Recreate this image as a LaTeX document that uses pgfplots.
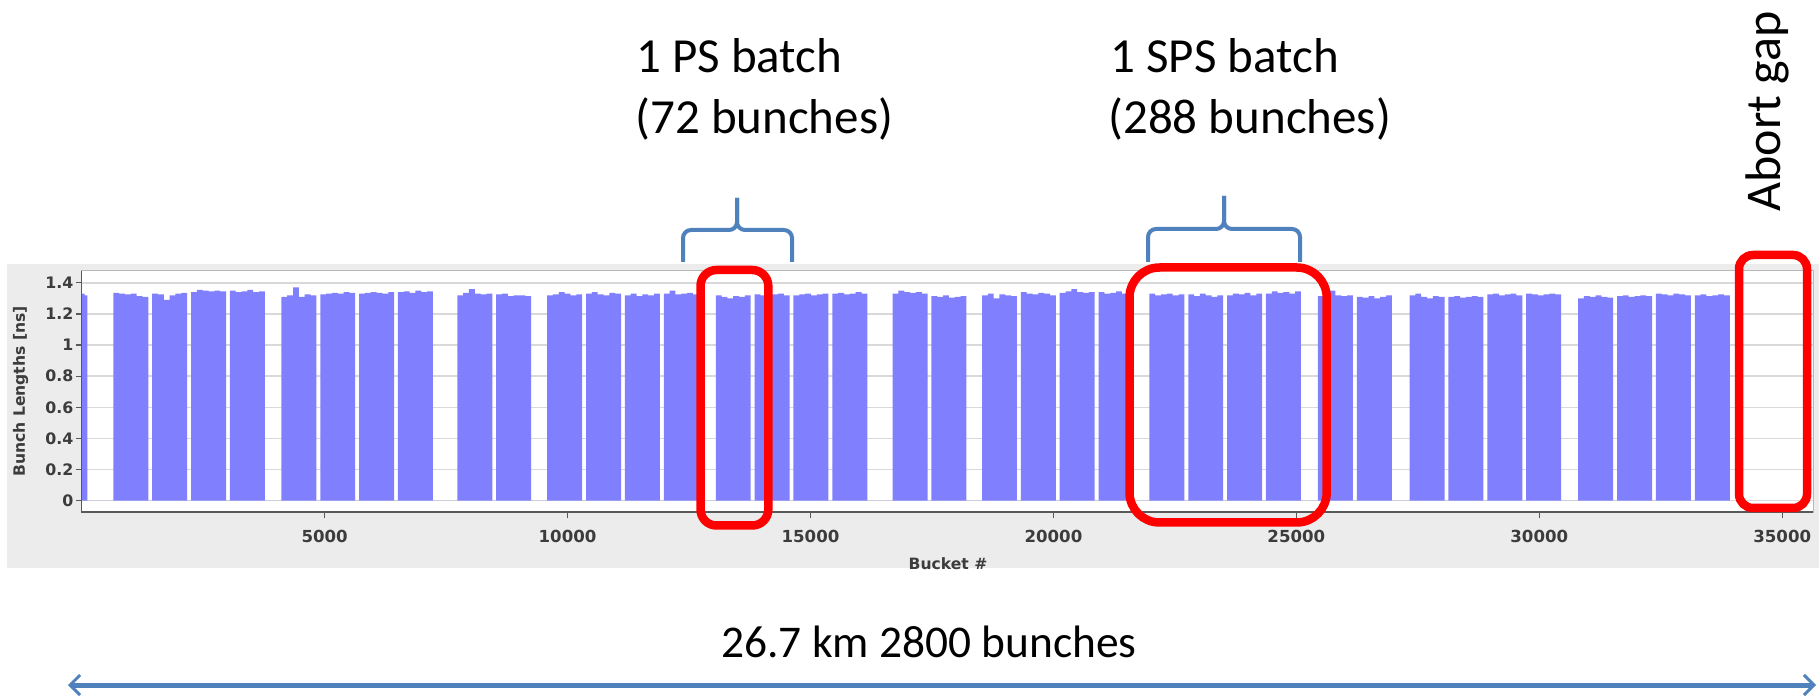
\documentclass[border=0pt]{standalone}
\usepackage{pgfplots}
\pgfplotsset{compat=1.18}
\usepackage{pgfplotstable}
\usetikzlibrary{arrows.meta}
\usepackage{fontspec}
\setmainfont{Carlito}
\newfontfamily\slidefont{Carlito}
\newfontfamily\chartfont{DejaVu Sans}
\definecolor{barblue}{RGB}{128,128,255}
\definecolor{braceblue}{RGB}{79,129,189}
\definecolor{panelgray}{RGB}{236,236,236}
\definecolor{ticktext}{RGB}{60,60,60}

\pgfplotstableread{
x y
0 1.33
60 1.32
115 0
650 1.335
770 1.33
890 1.325
1010 1.33
1130 1.315
1250 1.31
1370 0
1450 1.33
1570 1.325
1690 1.29
1810 1.32
1930 1.33
2050 1.335
2170 0
2250 1.34
2370 1.355
2490 1.35
2610 1.345
2730 1.35
2850 1.345
2970 0
3050 1.35
3170 1.34
3290 1.345
3410 1.355
3530 1.34
3650 1.345
3770 0
4110 1.31
4230 1.32
4350 1.37
4470 1.31
4590 1.325
4710 1.32
4830 0
4910 1.325
5030 1.33
5150 1.335
5270 1.33
5390 1.34
5510 1.335
5630 0
5710 1.33
5830 1.335
5950 1.34
6070 1.335
6190 1.33
6310 1.34
6430 0
6510 1.34
6630 1.345
6750 1.335
6870 1.35
6990 1.34
7110 1.345
7230 0
7730 1.32
7850 1.335
7970 1.36
8090 1.33
8210 1.325
8330 1.33
8450 0
8530 1.325
8650 1.33
8770 1.315
8890 1.32
9010 1.32
9130 1.315
9250 0
9580 1.32
9700 1.325
9820 1.34
9940 1.33
10060 1.32
10180 1.325
10300 0
10380 1.33
10500 1.34
10620 1.325
10740 1.32
10860 1.335
10980 1.33
11100 0
11180 1.32
11300 1.33
11420 1.315
11540 1.325
11660 1.32
11780 1.33
11900 0
11980 1.33
12100 1.35
12220 1.325
12340 1.33
12460 1.335
12580 1.325
12700 0
13050 1.32
13170 1.31
13290 1.30
13410 1.315
13530 1.31
13650 1.32
13770 0
13850 1.325
13970 1.32
14090 1.315
14210 1.325
14330 1.33
14450 1.32
14570 0
14650 1.32
14770 1.325
14890 1.33
15010 1.32
15130 1.325
15250 1.33
15370 0
15450 1.33
15570 1.335
15690 1.325
15810 1.33
15930 1.34
16050 1.33
16170 0
16690 1.33
16810 1.35
16930 1.34
17050 1.335
17170 1.34
17290 1.33
17410 0
17490 1.315
17610 1.31
17730 1.32
17850 1.305
17970 1.31
18090 1.315
18210 0
18530 1.32
18650 1.33
18770 1.30
18890 1.325
19010 1.32
19130 1.315
19250 0
19330 1.34
19450 1.33
19570 1.325
19690 1.335
19810 1.33
19930 1.32
20050 0
20130 1.335
20250 1.345
20370 1.36
20490 1.34
20610 1.335
20730 1.34
20850 0
20930 1.34
21050 1.33
21170 1.335
21290 1.345
21410 1.33
21530 1.335
21650 0
21975 1.33
22095 1.32
22215 1.325
22335 1.33
22455 1.32
22575 1.325
22695 0
22775 1.325
22895 1.315
23015 1.33
23135 1.32
23255 1.31
23375 1.32
23495 0
23575 1.32
23695 1.33
23815 1.325
23935 1.335
24055 1.32
24175 1.33
24295 0
24375 1.33
24495 1.345
24615 1.335
24735 1.34
24855 1.33
24975 1.345
25095 0
25445 1.315
25565 1.325
25685 1.35
25805 1.32
25925 1.315
26045 1.32
26165 0
26245 1.31
26365 1.305
26485 1.315
26605 1.30
26725 1.31
26845 1.32
26965 0
27330 1.32
27450 1.33
27570 1.31
27690 1.30
27810 1.315
27930 1.31
28050 0
28130 1.31
28250 1.315
28370 1.305
28490 1.31
28610 1.315
28730 1.31
28850 0
28930 1.325
29050 1.33
29170 1.32
29290 1.325
29410 1.33
29530 1.32
29650 0
29730 1.33
29850 1.325
29970 1.32
30090 1.325
30210 1.33
30330 1.325
30450 0
30800 1.30
30920 1.315
31040 1.31
31160 1.32
31280 1.31
31400 1.305
31520 0
31600 1.315
31720 1.32
31840 1.31
31960 1.315
32080 1.32
32200 1.315
32320 0
32400 1.33
32520 1.325
32640 1.32
32760 1.33
32880 1.325
33000 1.32
33120 0
33200 1.32
33320 1.325
33440 1.315
33560 1.32
33680 1.325
33800 1.32
33920 0
}\bunches

\begin{document}
\begin{tikzpicture}
\path[use as bounding box, fill=white] (0pt,0pt) rectangle (909.5pt,348pt);
% grey chart panel
\begin{scope}[x=0.5pt,y=-0.5pt,shift={(0pt,348pt)}]
\fill[panelgray] (6.7,264) rectangle (1819,568);
\end{scope}

\begin{axis}[
  at={(40.85pt,91.85pt)}, anchor=south west,
  scale only axis, width=865.8pt, height=120.8pt,
  xmin=0, xmax=35640, ymin=-0.075, ymax=1.478,
  axis background/.style={fill=white},
  axis line style={draw=black!28, line width=0.5pt},
  xtick={5000,10000,15000,20000,25000,30000,35000},
  xticklabels={5000,10000,15000,20000,25000,30000,35000},
  scaled x ticks=false,
  ytick={0,0.2,0.4,0.6,0.8,1,1.2,1.4},
  yticklabels={0,0.2,0.4,0.6,0.8,1,1.2,1.4},
  xtick pos=bottom, ytick pos=left,
  tick align=outside, major tick length=3pt,
  tick style={draw=black!65, line width=0.6pt},
  ymajorgrids, grid style={draw=black!15, line width=0.7pt},
  /pgf/number format/1000 sep={},
  /pgf/number format/assume math mode=true,
  yticklabel style={inner sep=1pt, font=\chartfont\bfseries\fontsize{7.9}{9}\selectfont, text=ticktext},
  xticklabel style={inner sep=1pt, yshift=-4.5pt, font=\chartfont\bfseries\fontsize{8.3}{10}\selectfont, text=ticktext},
  clip=false,
]
\addplot[const plot, fill=barblue, draw=none] table[x=x,y=y] {\bunches} \closedcycle;
\draw[black!65, line width=0.8pt] (rel axis cs:0,1) -- (rel axis cs:0,0) -- (rel axis cs:1,0);
\end{axis}

\begin{scope}[x=0.5pt,y=-0.5pt,shift={(0pt,348pt)}]
% axis titles
\node[rotate=90, font=\chartfont\bfseries\fontsize{7.8}{9}\selectfont, text=ticktext] at (20.7,391.5) {Bunch Lengths [ns]};
\node[font=\chartfont\bfseries\fontsize{7.8}{9}\selectfont, text=ticktext] at (948,564) {Bucket \#};
% red boxes
\draw[red, line width=4.25pt, rounded corners=8pt] (700.5,270) rectangle (768.3,525.5);
\draw[red, line width=4.25pt, rounded corners=15pt] (1129.5,267.5) rectangle (1326.7,522.5);
\draw[red, line width=4.25pt, rounded corners=7pt] (1739,255) rectangle (1807,508);
% braces
\draw[braceblue, line width=2pt, rounded corners=4pt] (683,262) -- (683,230) -- (737,230) -- (737,198);
\draw[braceblue, line width=2pt, rounded corners=4pt] (792,262) -- (792,230) -- (737,230) -- (737,198);
\draw[braceblue, line width=2pt, rounded corners=4pt] (1148,262) -- (1148,229) -- (1224,229) -- (1224,196);
\draw[braceblue, line width=2pt, rounded corners=4pt] (1300,262) -- (1300,229) -- (1224,229) -- (1224,196);
% texts
\node[anchor=base west, inner sep=0pt, font=\slidefont\fontsize{24.5}{29}\selectfont] at (636,72.7) {1 PS batch};
\node[anchor=base west, inner sep=0pt, font=\slidefont\fontsize{24.5}{29}\selectfont] at (635,133.3) {(72 bunches)};
\node[anchor=base west, inner sep=0pt, font=\slidefont\fontsize{24.5}{29}\selectfont] at (1110,72.7) {1 SPS batch};
\node[anchor=base west, inner sep=0pt, font=\slidefont\fontsize{24.5}{29}\selectfont] at (1108,133.3) {(288 bunches)};
\node[anchor=base west, inner sep=0pt, rotate=90, font=\slidefont\fontsize{25}{30}\selectfont] at (1780,211.7) {Abort gap};
\node[anchor=base, inner sep=0pt, font=\slidefont\fontsize{22.7}{27}\selectfont] at (929,657) {26.7 km 2800 bunches};
% arrow
\draw[braceblue, line width=2.5pt, arrows={Straight Barb[length=5pt,width=10pt,line width=1.5pt]-Straight Barb[length=5pt,width=10pt,line width=1.5pt]}] (68,685) -- (1816,685);
\end{scope}
\end{tikzpicture}
\end{document}
